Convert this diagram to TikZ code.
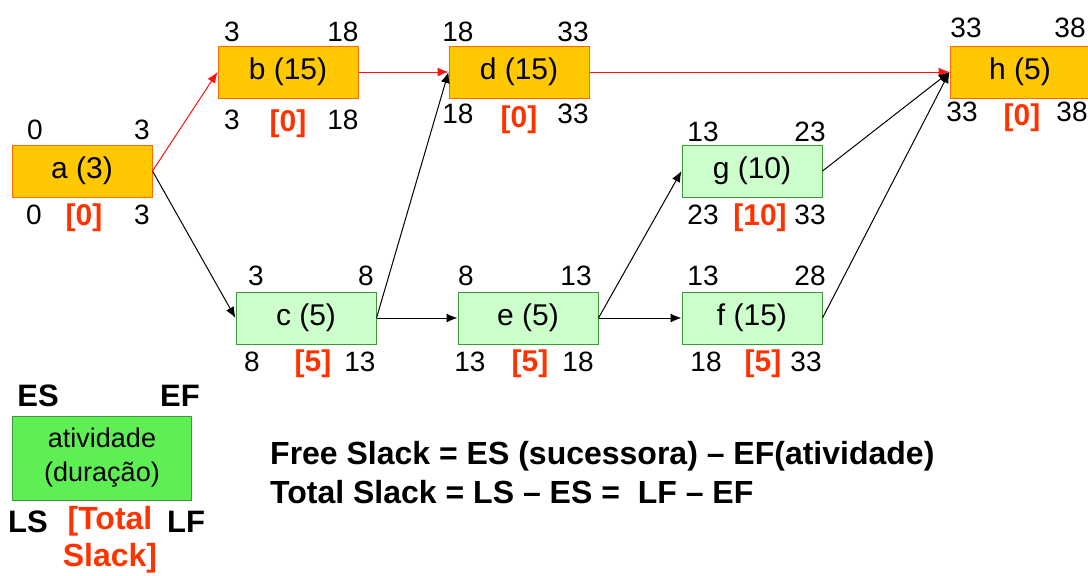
\documentclass[tikz,border=0pt]{standalone}
\usepackage{fontspec}
\setmainfont{Liberation Sans}
\usetikzlibrary{arrows.meta}

\definecolor{critfill}{HTML}{FFC800}
\definecolor{critline}{HTML}{FF6A00}
\definecolor{freefill}{HTML}{CCFFCC}
\definecolor{freeline}{HTML}{3A9A3A}
\definecolor{legfill}{HTML}{5EEF55}
\definecolor{slackred}{HTML}{FF3300}
\definecolor{critarrow}{HTML}{FF1010}

\tikzset{
  act/.style={draw,line width=1pt,minimum width=140pt,minimum height=52pt,inner sep=0pt,
    font=\fontsize{30}{34}\selectfont},
  crit/.style={act,fill=critfill,draw=critline},
  free/.style={act,fill=freefill,draw=freeline},
  num/.style={inner sep=0pt,font=\fontsize{28}{32}\selectfont},
  tslack/.style={inner sep=0pt,text=slackred,font=\fontsize{30}{34}\selectfont\bfseries},
  key/.style={inner sep=0pt,font=\fontsize{31}{34}\selectfont\bfseries},
  tip/.style={-{Latex[length=11pt,width=9pt]},line width=1pt}
}

\begin{document}
\begin{tikzpicture}[x=1pt,y=-1pt]
  \useasboundingbox (0,0) rectangle (1088,576);

  % activities
  \foreach \n/\x/\y/\t/\s in {a/82/171/{a (3)}/crit, b/288/72/{b (15)}/crit,
      d/519/72/{d (15)}/crit, h/1020/72/{h (5)}/crit, g/752/171/{g (10)}/free,
      c/306/318/{c (5)}/free, e/528/318/{e (5)}/free, f/752/318/{f (15)}/free}
    \node[\s] (\n) at (\x,\y) {\t};

  % early and late times
  \foreach \n/\x/\y/\t in {aes/35/130/0, aef/142/130/3, als/34/215/0, alf/142/215/3,
      bes/232/32/3, bef/343/32/18, bls/232/120/3, blf/343/120/18,
      des/458/32/18, def/573/32/33, dls/458/114/18, dlf/573/114/33,
      hes/966/28/33, hef/1070/28/38, hls/962/112/33, hlf/1072/112/38,
      ges/703/132/13, gef/810/132/23, gls/703/215/23, glf/810/215/33,
      ces/256/276/3, cef/366/276/8, cls/252/362/8, clf/360/362/13,
      ees/466/276/8, eef/576/276/13, els/470/362/13, elf/578/362/18,
      fes/703/276/13, fef/810/276/28, fls/706/362/18, flf/806/362/33}
    \node[num] (\n) at (\x,\y) {\t};

  % total slack
  \foreach \n/\x/\y/\t in {ats/84/218/0, bts/288/124/0, dts/519/120/0, hts/1022/118/0,
      gts/760/218/10, cts/313/364/5, ets/530/364/5, fts/763/364/5}
    \node[tslack] (\n) at (\x,\y) {[\t]};

  % precedences
  \path[tip,critarrow]
    (a.east) edge (b.west)
    (b.east) edge (d.west)
    (d.east) edge (h.west);
  \path[tip,black]
    (a.east) edge (c.west)
    (c.east) edge (d.west)
    (c.east) edge (e.west)
    (e.east) edge (g.west)
    (e.east) edge (f.west)
    (g.east) edge (h.west)
    (f.east) edge (h.west);

  % legend
  \node[act,fill=legfill,draw=freeline,minimum width=179pt,minimum height=84pt,
    align=center,font=\fontsize{27}{34}\selectfont] (leg) at (102,458) {atividade\\(duração)};
  \node[key] (les) at (38,396) {ES};
  \node[key] (lef) at (180,396) {EF};
  \node[key] (lls) at (28,522) {LS};
  \node[key] (llf) at (186,522) {LF};
  \node[tslack,align=center,font=\fontsize{32}{37}\selectfont\bfseries] (lts) at (110,540) {[Total\\Slack]};

  \node[key,anchor=west,font=\fontsize{32}{36}\selectfont\bfseries] (freeslack) at (270,456)
    {Free Slack = ES (sucessora) – EF(atividade)};
  \node[key,anchor=west,font=\fontsize{32}{36}\selectfont\bfseries] (totslack) at (270,492)
    {Total Slack = LS – ES =\ \ LF – EF};
\end{tikzpicture}
\end{document}
